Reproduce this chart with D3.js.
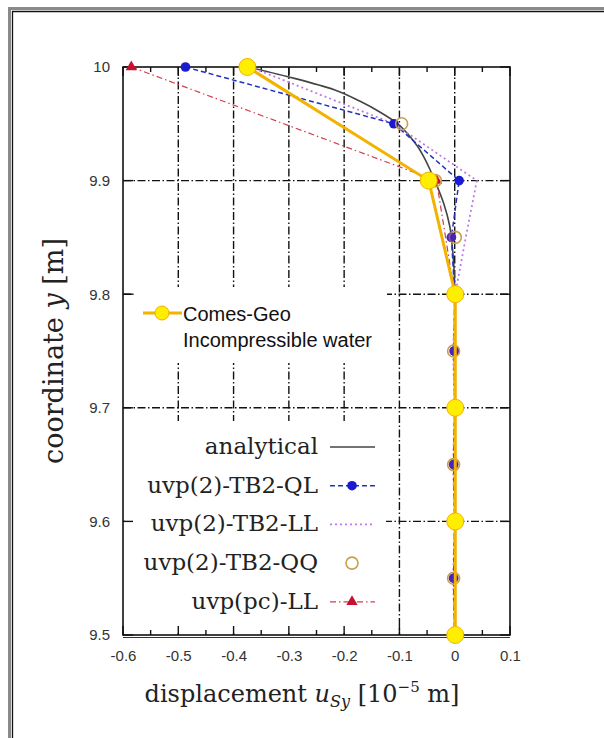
<!DOCTYPE html>
<html>
<head>
<meta charset="utf-8">
<script src="https://cdn.jsdelivr.net/npm/d3@7"></script>
<style>
  body { margin: 0; background: #fff; }
  svg { display: block; }
</style>
</head>
<body>
<div id="chart"></div>
<script>
// axis ticks
var xTicks = [-0.6, -0.5, -0.4, -0.3, -0.2, -0.1, 0, 0.1];
var xMinor = [-0.55, -0.45, -0.35, -0.25, -0.15, -0.05, 0.05];
var yTicks = [9.5, 9.6, 9.7, 9.8, 9.9, 10];

// analytical solution
var anaY = [10, 9.99, 9.98, 9.97, 9.96, 9.95, 9.94, 9.93, 9.92, 9.91, 9.90, 9.88, 9.86, 9.84, 9.82, 9.80, 9.5];
var anaU = [-0.375, -0.29, -0.218, -0.172, -0.134, -0.103, -0.083, -0.067, -0.055, -0.045, -0.036, -0.02, -0.009, -0.004, -0.001, 0, 0];

// uvp(2)-TB2-QL
var qlY = [10, 9.95, 9.9, 9.85, 9.8, 9.75, 9.7, 9.65, 9.6, 9.55, 9.5];
var qlU = [-0.487, -0.11, 0.008, -0.006, 0, -0.001, 0, -0.002, 0, -0.002, 0];

// uvp(2)-TB2-LL
var llY = [10, 9.95, 9.9, 9.85, 9.8, 9.75, 9.7, 9.65, 9.6, 9.55, 9.5];
var llU = [-0.37, -0.11, 0.04, 0.02, 0.001, -0.003, 0, -0.003, 0, -0.003, 0];

// uvp(2)-TB2-QQ
var qqY = [10, 9.95, 9.9, 9.85, 9.8, 9.75, 9.7, 9.65, 9.6, 9.55, 9.5];
var qqU = [-0.375, -0.096, -0.035, 0.001, 0, -0.002, 0, -0.002, 0, -0.002, 0];

// uvp(pc)-LL
var pcY = [10, 9.9, 9.8, 9.7, 9.6, 9.5];
var pcU = [-0.585, -0.033, 0, 0, 0, 0];

// Comes-Geo
var cgY = [10, 9.9, 9.8, 9.7, 9.6, 9.5];
var cgU = [-0.375, -0.047, 0.001, 0.001, 0.001, 0.001];

var legendNames = ["analytical", "uvp(2)-TB2-QL", "uvp(2)-TB2-LL", "uvp(2)-TB2-QQ", "uvp(pc)-LL"];

var W = 604, H = 738;
var serif = "'DejaVu Serif', serif", sans = "'Liberation Sans', Arial, sans-serif";

var svg = d3.select("#chart").append("svg").attr("width", W).attr("height", H);

// page frame
svg.append("path").attr("d", "M9.5,738V8.5H604").attr("fill", "none").attr("stroke", "#8a8a8a").attr("stroke-width", 3);
svg.append("path").attr("d", "M12.5,738V11.5H604").attr("fill", "none").attr("stroke", "#111").attr("stroke-width", 1.3);

var x = d3.scaleLinear().domain([-0.6, 0.1]).range([123, 510]);
var y = d3.scaleLinear().domain([9.5, 10]).range([635, 67]);

function pts(us, ys) {
  return us.map(function(u, i){ return [u, ys[i]]; });
}

// grid (dash-dot)
var grid = svg.append("g").attr("stroke", "#111").attr("stroke-width", 1.4).attr("stroke-dasharray", "8,2.5,1.5,2.5");
grid.selectAll(".gx").data(xTicks.slice(1, -1)).enter().append("line")
  .attr("x1", function(d){ return x(d); }).attr("x2", function(d){ return x(d); })
  .attr("y1", y(10)).attr("y2", y(9.5));
grid.selectAll(".gy").data(yTicks.slice(1, -1)).enter().append("line")
  .attr("y1", function(d){ return y(d); }).attr("y2", function(d){ return y(d); })
  .attr("x1", x(-0.6)).attr("x2", x(0.1));

// legend boxes hide grid
svg.append("rect").attr("x", 134).attr("y", 287).attr("width", 253).attr("height", 76).attr("fill", "#fff");
svg.append("rect").attr("x", 125).attr("y", 421).attr("width", 261).attr("height", 212).attr("fill", "#fff");

// frame + ticks
svg.append("rect").attr("x", x(-0.6)).attr("y", y(10)).attr("width", x(0.1) - x(-0.6)).attr("height", y(9.5) - y(10))
  .attr("fill", "none").attr("stroke", "#111").attr("stroke-width", 1.6);
svg.append("line").attr("x1", x(-0.6)).attr("x2", x(0.1)).attr("y1", y(9.5) + 2.5).attr("y2", y(9.5) + 2.5)
  .attr("stroke", "#333").attr("stroke-width", 1);

var ticks = svg.append("g").attr("stroke", "#111").attr("stroke-width", 1.4);
xTicks.forEach(function(d){
  ticks.append("line").attr("x1", x(d)).attr("x2", x(d)).attr("y1", y(9.5)).attr("y2", y(9.5) - 9);
  ticks.append("line").attr("x1", x(d)).attr("x2", x(d)).attr("y1", y(10)).attr("y2", y(10) + 9);
});
xMinor.forEach(function(d){
  ticks.append("line").attr("x1", x(d)).attr("x2", x(d)).attr("y1", y(9.5)).attr("y2", y(9.5) - 5);
  ticks.append("line").attr("x1", x(d)).attr("x2", x(d)).attr("y1", y(10)).attr("y2", y(10) + 5);
});
yTicks.forEach(function(d){
  ticks.append("line").attr("y1", y(d)).attr("y2", y(d)).attr("x1", x(-0.6)).attr("x2", x(-0.6) + 10);
  ticks.append("line").attr("y1", y(d)).attr("y2", y(d)).attr("x1", x(0.1)).attr("x2", x(0.1) - 10);
});

// tick labels
var xAxis = svg.append("g").attr("transform", "translate(0," + (y(9.5) + 12) + ")")
  .call(d3.axisBottom(x).tickValues(xTicks).tickSize(0).tickFormat(function(d){ return String(d); }));
xAxis.select(".domain").remove();
xAxis.selectAll("text").attr("font-family", sans).attr("font-size", 15).attr("fill", "#333");

var yAxis = svg.append("g").attr("transform", "translate(" + (x(-0.6) - 10) + ",0)")
  .call(d3.axisLeft(y).tickValues(yTicks).tickSize(0).tickFormat(function(d){ return String(d); }));
yAxis.select(".domain").remove();
yAxis.selectAll("text").attr("font-family", sans).attr("font-size", 15).attr("fill", "#333");

// axis titles
var yt = svg.append("text").attr("transform", "translate(63,351) rotate(-90)")
  .attr("text-anchor", "middle").attr("font-family", serif).attr("font-size", 27).attr("fill", "#222");
yt.append("tspan").text("coordinate ");
yt.append("tspan").attr("font-style", "italic").text("y");
yt.append("tspan").text(" [m]");

var xt = svg.append("text").attr("x", 302).attr("y", 702)
  .attr("text-anchor", "middle").attr("font-family", serif).attr("font-size", 24).attr("fill", "#222");
xt.append("tspan").text("displacement ");
xt.append("tspan").attr("font-style", "italic").text("u");
xt.append("tspan").attr("font-style", "italic").attr("font-size", 16).attr("dy", 5).text("Sy");
xt.append("tspan").attr("dy", -5).text(" [10");
xt.append("tspan").attr("font-size", 15).attr("dy", -10).text("\u22125");
xt.append("tspan").attr("dy", 10).text(" m]");

// series
var line = d3.line().x(function(d){ return x(d[0]); }).y(function(d){ return y(d[1]); });
var curve = d3.line().x(function(d){ return x(d[0]); }).y(function(d){ return y(d[1]); }).curve(d3.curveMonotoneY);

var styles = [
  {stroke: "#444", width: 1.6, dash: null},
  {stroke: "#2233bb", width: 1.5, dash: "5,3"},
  {stroke: "#c07ae8", width: 1.8, dash: "2,3"},
  {stroke: "none", width: 0, dash: null},
  {stroke: "#d04050", width: 1.2, dash: "6,3,1.5,3"}
];

svg.append("path").datum(pts(anaU, anaY)).attr("d", curve).attr("fill", "none")
  .attr("stroke", styles[0].stroke).attr("stroke-width", styles[0].width);

svg.append("path").datum(pts(pcU, pcY)).attr("d", line).attr("fill", "none")
  .attr("stroke", styles[4].stroke).attr("stroke-width", styles[4].width).attr("stroke-dasharray", styles[4].dash);
svg.append("path").datum(pts(llU, llY)).attr("d", line).attr("fill", "none")
  .attr("stroke", styles[2].stroke).attr("stroke-width", styles[2].width).attr("stroke-dasharray", styles[2].dash);
svg.append("path").datum(pts(qlU, qlY)).attr("d", line).attr("fill", "none")
  .attr("stroke", styles[1].stroke).attr("stroke-width", styles[1].width).attr("stroke-dasharray", styles[1].dash);

var tri = d3.symbol().type(d3.symbolTriangle).size(55);
svg.selectAll(".pc").data(pts(pcU, pcY)).enter().append("path")
  .attr("transform", function(d){ return "translate(" + x(d[0]) + "," + y(d[1]) + ")"; })
  .attr("d", tri).attr("fill", "#c8102e");
svg.selectAll(".ql").data(pts(qlU, qlY)).enter().append("circle")
  .attr("cx", function(d){ return x(d[0]); }).attr("cy", function(d){ return y(d[1]); })
  .attr("r", 4.8).attr("fill", "#1a1ad0");
svg.selectAll(".qq").data(pts(qqU, qqY)).enter().append("circle")
  .attr("cx", function(d){ return x(d[0]); }).attr("cy", function(d){ return y(d[1]); })
  .attr("r", 6).attr("fill", "none").attr("stroke", "#c9a050").attr("stroke-width", 1.6);
// purple tint where QL and LL points overlap
svg.selectAll(".llp").data(pts(qlU, qlY).filter(function(d){ return d[1] < 9.9; })).enter().append("circle")
  .attr("cx", function(d){ return x(d[0]); }).attr("cy", function(d){ return y(d[1]); })
  .attr("r", 4.8).attr("fill", "#6a2aa8").attr("opacity", 0.6);

// Comes-Geo on top
svg.append("path").datum(pts(cgU, cgY)).attr("d", line).attr("fill", "none")
  .attr("stroke", "#f2b200").attr("stroke-width", 3);
svg.selectAll(".cg").data(pts(cgU, cgY)).enter().append("circle")
  .attr("cx", function(d){ return x(d[0]); }).attr("cy", function(d){ return y(d[1]); })
  .attr("r", 8.5).attr("fill", "#ffee00").attr("stroke", "#f2b200").attr("stroke-width", 1);

// gnuplot legend
var leg = svg.append("g");
legendNames.forEach(function(name, i){
  var ly = 447 + i * 38.7;
  leg.append("text").attr("x", 318).attr("y", ly + 7).attr("text-anchor", "end")
    .attr("font-family", serif).attr("font-size", 23).attr("fill", "#222").text(name);
  var s = styles[i];
  if (s.stroke !== "none") {
    leg.append("line").attr("x1", 330).attr("x2", 375).attr("y1", ly).attr("y2", ly)
      .attr("stroke", s.stroke).attr("stroke-width", s.width).attr("stroke-dasharray", s.dash);
  }
  if (i === 1) leg.append("circle").attr("cx", 352).attr("cy", ly).attr("r", 4.8).attr("fill", "#1a1ad0");
  if (i === 3) leg.append("circle").attr("cx", 352).attr("cy", ly).attr("r", 6).attr("fill", "none").attr("stroke", "#c9a050").attr("stroke-width", 1.6);
  if (i === 4) leg.append("path").attr("transform", "translate(352," + ly + ")").attr("d", tri).attr("fill", "#c8102e");
});

// Comes-Geo legend
var cg = svg.append("g");
cg.append("line").attr("x1", 143).attr("x2", 182).attr("y1", 313).attr("y2", 313).attr("stroke", "#f2b200").attr("stroke-width", 3);
cg.append("circle").attr("cx", 162).attr("cy", 313).attr("r", 7).attr("fill", "#ffee00").attr("stroke", "#f2b200");
cg.append("text").attr("x", 183).attr("y", 321).attr("font-family", sans).attr("font-size", 20).attr("fill", "#111").text("Comes-Geo");
cg.append("text").attr("x", 183).attr("y", 347).attr("font-family", sans).attr("font-size", 20).attr("fill", "#111").text("Incompressible water");
</script>
</body>
</html>
